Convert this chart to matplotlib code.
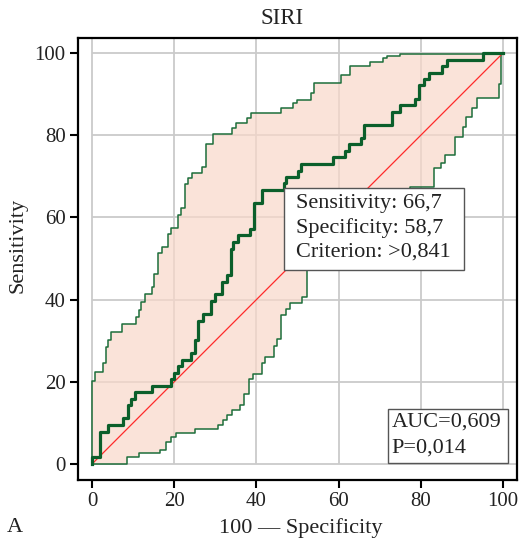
import matplotlib
matplotlib.use("Agg")
import matplotlib.pyplot as plt
from matplotlib.patches import Rectangle

# ROC curve (100 - specificity, sensitivity), step corners
roc_x = [0, 0, 2.0, 3.8, 7.6, 8.8, 9.5, 10.5, 14.5, 19.2, 20.0, 20.8, 22.0, 24.1, 25.1,
         25.9, 27.1, 29.0, 29.9, 31.7, 32.8, 33.7, 34.4, 35.4, 38.4, 39.5, 41.3, 46.8,
         47.2, 50.0, 50.9, 58.7, 61.6, 62.6, 65.5, 66.2, 72.9, 74.9, 78.6, 79.5, 80.8,
         82.0, 85.2, 86.3, 95.1, 100]
roc_y = [0, 1.6, 7.9, 9.5, 11.1, 14.3, 15.9, 17.5, 19.0, 20.6, 22.2, 23.8, 25.4, 27.0,
         30.2, 34.9, 36.5, 39.7, 41.3, 44.4, 46.0, 52.4, 54.0, 55.6, 57.1, 63.5, 66.7,
         68.3, 69.8, 71.4, 73.0, 74.6, 76.2, 77.8, 79.4, 82.5, 85.7, 87.3, 88.9, 92.1,
         93.7, 95.2, 96.8, 98.4, 100, 100]

# upper confidence band
up_x = [0, 0, 0.7, 2.7, 3.4, 3.9, 4.5, 7.2, 10.8, 11.4, 12.0, 12.8, 14.5, 15.2, 16.1,
        17.0, 18.4, 19.2, 20.8, 21.7, 22.6, 23.4, 24.3, 26.8, 27.7, 29.5, 34.0, 35.0,
        37.6, 38.6, 46.1, 49.0, 49.8, 53.2, 53.9, 60.7, 62.8, 67.6, 70.9, 71.7, 74.9, 100]
up_y = [0, 20.2, 22.5, 24.5, 28.5, 30.2, 32.2, 34.1, 35.8, 37.5, 39.3, 41.4, 43.0, 46.2,
        51.3, 52.9, 56.0, 57.5, 60.6, 62.2, 68.1, 69.5, 70.9, 72.3, 77.8, 80.2, 81.7,
        82.9, 84.3, 85.5, 86.6, 87.9, 88.6, 90.2, 92.6, 94.6, 96.8, 97.9, 98.7, 99.3,
        99.8, 100]

# lower confidence band
lo_x = [0, 8.4, 11.5, 16.5, 18.0, 19.1, 20.4, 25.1, 30.6, 31.8, 32.9, 34.0, 36.1, 37.0,
        38.2, 39.1, 41.3, 42.1, 44.2, 45.1, 46.1, 47.2, 48.2, 51.0, 52.2, 55.5, 58.5,
        62.0, 65.5, 69.0, 73.0, 77.4, 83.2, 84.8, 85.9, 88.3, 90.2, 91.0, 92.4, 93.6,
        98.9, 99.6, 100]
lo_y = [0, 1.8, 2.7, 3.4, 5.4, 6.5, 7.5, 8.4, 9.5, 10.8, 12.0, 13.1, 14.4, 17.0, 20.6,
        21.9, 24.6, 26.1, 28.6, 30.3, 36.3, 37.6, 39.2, 40.6, 47.2, 50.5, 53.5, 56.5,
        59.5, 62.0, 64.5, 67.5, 71.9, 73.3, 75.2, 79.5, 81.9, 84.5, 86.7, 89.0, 92.4,
        100, 100]

ticks = [0, 20, 40, 60, 80, 100]
box1_lines = ["Sensitivity: 66,7", "Specificity: 58,7", "Criterion: >0,841"]
box2_lines = ["AUC=0,609", "P=0,014"]


def step_path(x, y):
    xs, ys = [x[0]], [y[0]]
    for i in range(1, len(x)):
        xs += [x[i], x[i]]
        ys += [y[i - 1], y[i]]
    return xs, ys


plt.rcParams['font.family'] = ['Liberation Serif', 'DejaVu Serif']
W, H = 521, 543
fig = plt.figure(figsize=(W / 100, H / 100), dpi=100)
ax = fig.add_axes([78 / W, 1 - 480 / H, (517 - 78) / W, (480 - 38) / H])
ax.set_xlim(-3.41, 103.4)
ax.set_ylim(-3.89, 103.65)

# grid
ax.hlines(ticks, 0, 103.4, colors='#cacaca', lw=1.3, zorder=0)
ax.vlines(ticks, 0, 103.65, colors='#cacaca', lw=1.3, zorder=0)

ux, uy = step_path(up_x, up_y)
lx, ly = step_path(lo_x, lo_y)
ax.fill(ux + lx[::-1], uy + ly[::-1], color='#f9d8ca', alpha=0.7, lw=0, zorder=1)
ax.plot(ux, uy, color='#1d6e3b', lw=1.1, zorder=2)
ax.plot(lx, ly, color='#1d6e3b', lw=1.1, zorder=2)
ax.plot([0, 100], [0, 100], color='#ff2a2a', lw=0.9, zorder=3)
ax.plot(roc_x, roc_y, drawstyle='steps-post', color='#0b5f2b', lw=2.3, zorder=4)

# text boxes
ax.add_patch(Rectangle((46.7, 47.2), 43.8, 20.0, fc='white', ec='#555555', lw=1.0, zorder=5))
for txt, yy in zip(box1_lines, [63.5, 57.4, 51.6]):
    ax.text(49.6, yy, txt, fontsize=16, color='#222222', va='center', ha='left', zorder=6)
ax.add_patch(Rectangle((72.1, 0.2), 29.2, 13.3, fc='white', ec='#555555', lw=1.0, zorder=5))
for txt, yy in zip(box2_lines, [10.3, 3.8]):
    ax.text(72.9, yy, txt, fontsize=16, color='#222222', va='center', ha='left', zorder=6)

ax.set_xticks(ticks)
ax.set_yticks(ticks)
ax.tick_params(length=6, width=1.5, labelsize=15, labelcolor='#222222', pad=3)
for s in ax.spines.values():
    s.set_linewidth(1.6)
    s.set_color('black')

fig.text(282 / W, 1 - 18 / H, "SIRI", fontsize=16.5, color='#222222', ha='center', va='center')
fig.text(301 / W, 1 - 528 / H, "100 — Specificity", fontsize=16, color='#222222',
         ha='center', va='center')
fig.text(15 / W, 1 - 528 / H, "A", fontsize=16, color='#222222', ha='center', va='center')
fig.text(18 / W, 1 - 245 / H, "Sensitivity", fontsize=16, color='#222222', ha='center',
         va='center', rotation=90)

fig.savefig("out.png", dpi=100)
